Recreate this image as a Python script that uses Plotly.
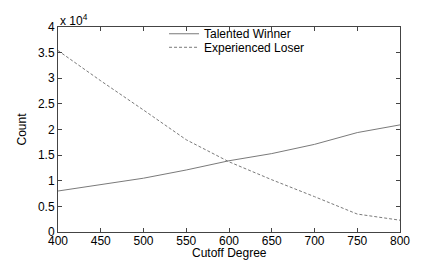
import plotly.graph_objects as go

cutoff = [400, 450, 500, 550, 600, 650, 700, 750, 800]
talented_winner = [8000, 9200, 10500, 12100, 13900, 15300, 17100, 19400, 20900]
experienced_loser = [35400, 29500, 23800, 18000, 13700, 10200, 6900, 3500, 2300]
y_tickvals = [0, 5000, 10000, 15000, 20000, 25000, 30000, 35000, 40000]
y_ticktext = ["0", "0.5", "1", "1.5", "2", "2.5", "3", "3.5", "4"]
x_tickvals = [400, 450, 500, 550, 600, 650, 700, 750, 800]

font = dict(family="Liberation Sans, Arial, sans-serif", size=12, color="black")
line_col = "#7a7a7a"

fig = go.Figure()
fig.add_trace(go.Scatter(x=cutoff, y=talented_winner, mode="lines", name="Talented Winner",
                         line=dict(color=line_col, width=1), legend="legend"))
fig.add_trace(go.Scatter(x=cutoff, y=experienced_loser, mode="lines", name="Experienced Loser",
                         line=dict(color=line_col, width=1, dash="3px,2px"), legend="legend2"))

axis_common = dict(showgrid=False, zeroline=False, showline=True, linecolor="#444444", linewidth=1,
                   mirror="ticks", ticks="inside", ticklen=4, tickcolor="#444444",
                   tickfont=font, automargin=False)
fig.update_xaxes(range=[400, 800], tickvals=x_tickvals, ticklabelstandoff=-2, **axis_common)
fig.update_yaxes(range=[0, 40000], tickvals=y_tickvals, ticktext=y_ticktext,
                 title=dict(text="Count", font=font, standoff=8), **axis_common)

# x-axis title placed tight under the tick labels (as in the reference)
fig.add_annotation(x=0.5, y=0, xref="paper", yref="paper", xanchor="center", yanchor="middle",
                   text="Cutoff Degree", showarrow=False, font=font, yshift=-21)
# exponent multiplier
fig.add_annotation(x=0, y=1, xref="paper", yref="paper", xanchor="left", yanchor="bottom",
                   text="x 10<sup>4</sup>", showarrow=False, font=font, yshift=-3)

leg_common = dict(xanchor="left", yanchor="middle", bgcolor="rgba(0,0,0,0)", borderwidth=0, font=font)
fig.update_layout(
    width=435, height=253,
    margin=dict(l=50, r=43, t=11, b=29),
    plot_bgcolor="white", paper_bgcolor="white",
    font=font,
    legend=dict(x=0.31, y=0.967, **leg_common),
    legend2=dict(x=0.31, y=0.901, **leg_common),
    showlegend=True,
)

fig.write_html("out.html")
